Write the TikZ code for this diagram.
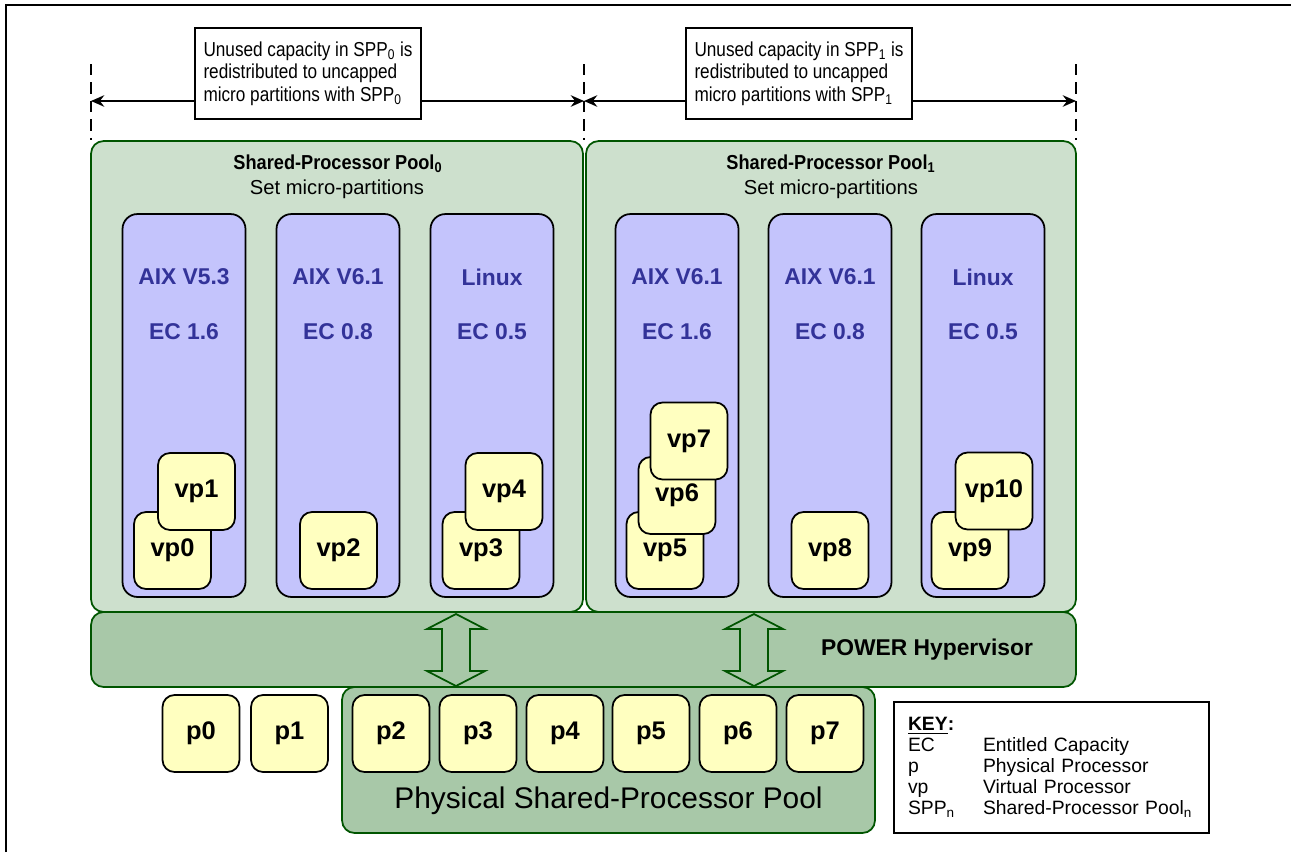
\documentclass[tikz,border=0pt]{standalone}
\usepackage{fontspec}
\setmainfont{Liberation Sans}
\newfontfamily\narrowfont{Liberation Sans}[FakeStretch=0.85]
\newfontfamily\semifont{Liberation Sans}[FakeStretch=0.9]
\definecolor{poolgreen}{RGB}{205,224,205}
\definecolor{hvgreen}{RGB}{168,200,168}
\definecolor{darkgreen}{RGB}{0,85,0}
\definecolor{partblue}{RGB}{196,196,252}
\definecolor{osblue}{RGB}{51,51,153}
\definecolor{procyellow}{RGB}{255,255,192}
\usetikzlibrary{arrows.meta,calc}
\newcommand{\keyentry}[2]{\makebox[42.7pt][l]{#1}#2}

\begin{document}
\begin{tikzpicture}[x=0.02cm, y=-0.02cm,
  pool/.style={draw=darkgreen, line width=1pt, fill=poolgreen, rounded corners=0.25cm},
  part/.style={draw=black, line width=1pt, fill=partblue, rounded corners=0.3cm,
    minimum width=2.46cm, minimum height=7.66cm},
  proc/.style={draw=black, line width=1pt, fill=procyellow, rounded corners=0.24cm,
    minimum size=1.54cm, inner sep=0pt, font=\fontsize{14.5}{16}\selectfont\bfseries},
  oslabel/.style={text=osblue, font=\fontsize{13}{15}\selectfont\bfseries},
  note/.style={draw, line width=1.1pt, fill=white, align=left, inner sep=0pt,
    minimum width=4.52cm, minimum height=1.82cm,
    font=\narrowfont\fontsize{11.5}{12.7}\selectfont},
  guide/.style={line width=1.6pt, dash pattern=on 6.5pt off 4pt},
  span/.style={line width=1.6pt, -{Stealth[length=7.5pt,width=6.5pt]}},
  bigarrow/.style={draw=darkgreen, line width=1pt, fill=hvgreen}]
  \useasboundingbox (0,0) rectangle (1291,852);
  % cadre
  \draw[line width=1pt] (6,852) -- (6,5) -- (1291,5);
  % reperes pointilles
  \coordinate (g0t) at (91,64);   \coordinate (g0b) at (91,140);
  \coordinate (g1t) at (584,64);  \coordinate (g1b) at (584,140);
  \coordinate (g2t) at (1076,64); \coordinate (g2b) at (1076,140);
  \coordinate (s0) at (91,101);
  \coordinate (s1) at (584,101);
  \coordinate (s2) at (1076,101);
  \draw[guide] (g0t) -- (g0b);
  \draw[guide] (g1t) -- (g1b);
  \draw[guide] (g2t) -- (g2b);
  % notes du haut
  \node[note] (note0) at (308,73.5)
    {Unused capacity in SPP\textsubscript{0} is\\redistributed to uncapped\\micro partitions with SPP\textsubscript{0}};
  \node[note] (note1) at (799,73.5)
    {Unused capacity in SPP\textsubscript{1} is\\redistributed to uncapped\\micro partitions with SPP\textsubscript{1}};
  \draw[span] (note0.west |- s0) -- (s0);
  \draw[span] (note0.east |- s0) -- (s1);
  \draw[span] (note1.west |- s1) -- (s1);
  \draw[span] (note1.east |- s1) -- (s2);
  % pools
  \node[pool, minimum width=9.84cm, minimum height=9.42cm] (pool0) at (337,376.5) {};
  \node[pool, minimum width=9.8cm, minimum height=9.42cm] (pool1) at (831,376.5) {};
  \node[font=\semifont\bfseries\fontsize{11.5}{13}\selectfont] (hd0) at (338,164)
    {Shared-Processor Pool\textsubscript{0}};
  \node[font=\fontsize{11.5}{13}\selectfont] (sub0) at (337,189) {Set micro-partitions};
  \node[font=\semifont\bfseries\fontsize{11.5}{13}\selectfont] (hd1) at (831,164)
    {Shared-Processor Pool\textsubscript{1}};
  \node[font=\fontsize{11.5}{13}\selectfont] (sub1) at (831,189) {Set micro-partitions};
  % pool physique et hyperviseur
  \node[pool, fill=hvgreen, minimum width=10.66cm, minimum height=2.92cm] (phys) at (608.5,760) {};
  \node[font=\fontsize{17}{20}\selectfont] (physlbl) at (608.5,801) {Physical Shared-Processor Pool};
  \node[pool, fill=hvgreen, minimum width=19.7cm, minimum height=1.5cm] (hyper) at (583.5,649.5) {};
  \node[font=\bfseries\fontsize{13}{15}\selectfont] (hvlbl) at (927,650) {POWER Hypervisor};
  \draw[bigarrow, shift={(456,650)}] (0,-36) -- (29,-21) -- (14,-21) -- (14,21) -- (29,21)
    -- (0,36) -- (-29,21) -- (-14,21) -- (-14,-21) -- (-29,-21) -- cycle;
  \draw[bigarrow, shift={(754,650)}] (0,-36) -- (29,-21) -- (14,-21) -- (14,21) -- (29,21)
    -- (0,36) -- (-29,21) -- (-14,21) -- (-14,-21) -- (-29,-21) -- cycle;
  % processeurs physiques
  \node[proc] (p0) at (201,733.5) {p0};
  \node[proc] (p1) at (289.5,733.5) {p1};
  \node[proc] (p2) at (391,733.5) {p2};
  \node[proc] (p3) at (478,733.5) {p3};
  \node[proc] (p4) at (565,733.5) {p4};
  \node[proc] (p5) at (651,733.5) {p5};
  \node[proc] (p6) at (738,733.5) {p6};
  \node[proc] (p7) at (825,733.5) {p7};
  % partitions SPP0
  \node[part] (os0) at (184,405.5) {};
  \node[oslabel] (os0name) at (184,277) {AIX V5.3};
  \node[oslabel] (os0ec) at (184,332) {EC 1.6};
  \node[part] (os1) at (338,405.5) {};
  \node[oslabel] (os1name) at (338,277) {AIX V6.1};
  \node[oslabel] (os1ec) at (338,332) {EC 0.8};
  \node[part] (os2) at (492,405.5) {};
  \node[oslabel] (os2name) at (492,277) {Linux};
  \node[oslabel] (os2ec) at (492,332) {EC 0.5};
  % partitions SPP1
  \node[part] (os3) at (677,405.5) {};
  \node[oslabel] (os3name) at (677,277) {AIX V6.1};
  \node[oslabel] (os3ec) at (677,332) {EC 1.6};
  \node[part] (os4) at (830,405.5) {};
  \node[oslabel] (os4name) at (830,277) {AIX V6.1};
  \node[oslabel] (os4ec) at (830,332) {EC 0.8};
  \node[part] (os5) at (983,405.5) {};
  \node[oslabel] (os5name) at (983,277) {Linux};
  \node[oslabel] (os5ec) at (983,332) {EC 0.5};
  % processeurs virtuels
  \node[proc] (vp0) at (172.5,550.5) {vp0};
  \node[proc] (vp1) at (196.5,491.5) {vp1};
  \node[proc] (vp2) at (338.5,550.5) {vp2};
  \node[proc] (vp3) at (481,550.5) {vp3};
  \node[proc] (vp4) at (504,491.5) {vp4};
  \node[proc] (vp5) at (665,550.5) {vp5};
  \node[proc] (vp6) at (677,495.5) {vp6};
  \node[proc] (vp7) at (689,441) {vp7};
  \node[proc] (vp8) at (830,550.5) {vp8};
  \node[proc] (vp9) at (970,550.5) {vp9};
  \node[proc] (vp10) at (994,491) {vp10};
  % legende
  \node[draw, line width=1.3pt, align=left, text width=5.74cm, inner xsep=0.28cm,
    minimum height=2.62cm, font=\fontsize{11}{12}\selectfont] (key) at (1051.5,767.5)
    {\textbf{\underline{KEY}:}\\
     \keyentry{EC}{Entitled Capacity}\\
     \keyentry{p}{Physical Processor}\\
     \keyentry{vp}{Virtual Processor}\\
     \keyentry{SPP\textsubscript{n}}{Shared-Processor Pool\textsubscript{n}}};
\end{tikzpicture}
\end{document}
